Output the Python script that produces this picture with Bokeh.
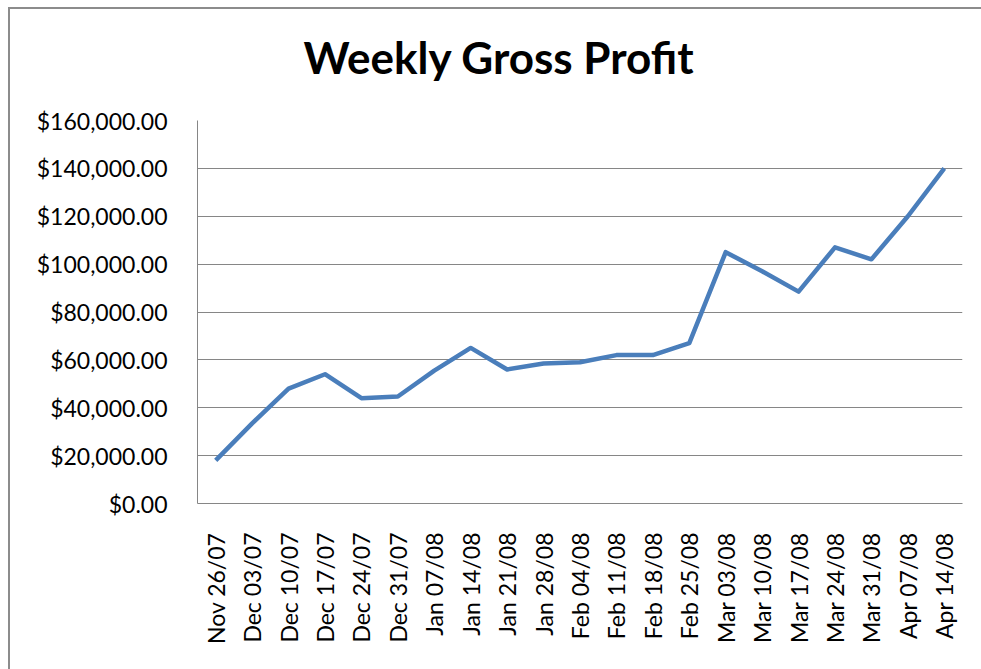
from bokeh.plotting import figure
from bokeh.models import Range1d, FixedTicker, NumeralTickFormatter, Div
from bokeh.layouts import column
from bokeh.embed import file_html
from bokeh.resources import INLINE
import math

weeks = ["Nov 26/07", "Dec 03/07", "Dec 10/07", "Dec 17/07", "Dec 24/07", "Dec 31/07",
         "Jan 07/08", "Jan 14/08", "Jan 21/08", "Jan 28/08", "Feb 04/08", "Feb 11/08",
         "Feb 18/08", "Feb 25/08", "Mar 03/08", "Mar 10/08", "Mar 17/08", "Mar 24/08",
         "Mar 31/08", "Apr 07/08", "Apr 14/08"]
profit = [18000, 33500, 48000, 54000, 44000, 44700, 55500, 65000, 56000, 58500, 59000,
          62000, 62000, 67000, 105000, 97000, 88500, 107000, 102000, 120000, 140000]
y_ticks = [0, 20000, 40000, 60000, 80000, 100000, 120000, 140000, 160000]
title_text = "Weekly Gross Profit"

FONT = "Lato"
GREY = "#868686"

header = Div(text=title_text, width=971, height=86,
             styles={"font-family": FONT, "font-size": "44px", "font-weight": "bold",
                     "color": "black", "line-height": "80px", "text-align": "center",
                     "padding-top": "3px", "padding-right": "4px",
                     "box-sizing": "border-box", "background": "white"})

p = figure(x_range=weeks, y_range=Range1d(0, 160000), width=971, height=564,
           output_backend="svg", toolbar_location=None,
           min_border_left=187, min_border_right=19, min_border_top=15,
           min_border_bottom=166)

p.line(weeks, profit, line_color="#4A7EBB", line_width=4.5, line_join="round")

p.outline_line_color = None
p.background_fill_color = "white"
p.border_fill_color = "white"

p.xgrid.grid_line_color = None
p.ygrid.grid_line_color = GREY
p.ygrid.grid_line_width = 1
p.yaxis.ticker = FixedTicker(ticks=y_ticks)
p.yaxis.formatter = NumeralTickFormatter(format="$0,0.00")

for ax in (p.xaxis, p.yaxis):
    ax.axis_line_color = GREY
    ax.axis_line_width = 1
    ax.major_tick_line_color = None
    ax.minor_tick_line_color = None
    ax.major_label_text_font = FONT
    ax.major_label_text_font_size = "23px"
    ax.major_label_text_color = "black"

p.yaxis.major_label_standoff = 24
p.xaxis.major_label_orientation = math.pi / 2
p.xaxis.major_label_standoff = 23

layout = column(header, p, spacing=0)
layout.styles = {"margin-left": "8px", "margin-top": "7px",
                 "border-left": "2px solid #8c8c8c", "border-top": "2px solid #8c8c8c",
                 "background": "white"}

open("out.html", "w").write(file_html(layout, INLINE))
